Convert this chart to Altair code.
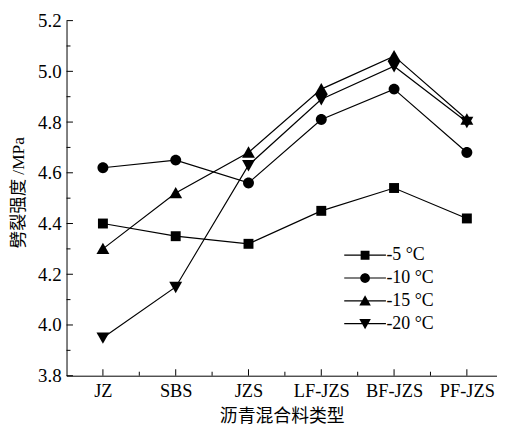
import altair as alt
import pandas as pd

categories = ["JZ", "SBS", "JZS", "LF-JZS", "BF-JZS", "PF-JZS"]
series_names = ["-5 \u00b0C", "-10 \u00b0C", "-15 \u00b0C", "-20 \u00b0C"]
s_m5 = [4.40, 4.35, 4.32, 4.45, 4.54, 4.42]
s_m10 = [4.62, 4.65, 4.56, 4.81, 4.93, 4.68]
s_m15 = [4.30, 4.52, 4.68, 4.93, 5.06, 4.81]
s_m20 = [3.95, 4.15, 4.63, 4.89, 5.02, 4.80]
y_major = [3.8, 4.0, 4.2, 4.4, 4.6, 4.8, 5.0, 5.2]
y_minor = [3.9, 4.1, 4.3, 4.5, 4.7, 4.9, 5.1]
x_major = [0, 1, 2, 3, 4, 5]
x_minor = [0.5, 1.5, 2.5, 3.5, 4.5]

rows = []
for name, vals in zip(series_names, [s_m5, s_m10, s_m15, s_m20]):
    for i, v in enumerate(vals):
        rows.append({"idx": i, "cat": categories[i], "series": name, "value": v})
df = pd.DataFrame(rows)

FONT = "'Liberation Serif', 'Times New Roman', 'Noto Sans CJK SC', serif"
W, H = 434, 358

marker_paths = [
    "M-1,-1H1V1H-1Z",
    "M1.1,0A1.1,1.1,0,1,1,-1.1,0A1.1,1.1,0,1,1,1.1,0Z",
    "M0,-1.25L1.3,1.05H-1.3Z",
    "M0,1.25L-1.3,-1.05H1.3Z",
]
# legend symbols: marker plus a thin horizontal bar (line sample)
bar = "M-4.7,-0.13H4.7V0.13H-4.7Z"
legend_paths = [bar + p for p in marker_paths]

x_scale = alt.Scale(domain=[-0.5, 5.414], nice=False, zero=False)
y_scale = alt.Scale(domain=[3.8, 5.2], nice=False, zero=False)

label_expr = "[" + ",".join("'%s'" % c for c in categories) + "][datum.value]"

x_enc = alt.X(
    "idx:Q",
    scale=x_scale,
    axis=alt.Axis(
        values=x_major, labelExpr=label_expr, ticks=False, tickSize=0, grid=False,
        title="沥青混合料类型", labelFont=FONT, labelFontSize=18.5, labelColor="black",
        labelBaseline="middle", labelPadding=14.5, titleFont=FONT, titleFontSize=18,
        titleFontWeight="normal", titleColor="black", titleBaseline="middle",
        titleX=217, titleY=41.5, domainColor="black", domainWidth=1, labelFlush=False,
    ),
)
y_enc = alt.Y(
    "value:Q",
    scale=y_scale,
    axis=alt.Axis(
        values=y_major, format=".1f", ticks=False, tickSize=0, grid=False,
        title="劈裂强度 /MPa", labelFont=FONT, labelFontSize=19, labelColor="black",
        labelPadding=5.5, titleFont=FONT, titleFontSize=17.5, titleFontWeight="normal",
        titleColor="black", titleBaseline="middle", titleX=-48, titleY=173,
        domainColor="black", domainWidth=1, labelFlush=False,
    ),
)

lines = alt.Chart(df).mark_line(color="black", strokeWidth=1.2).encode(
    x=x_enc, y=y_enc, detail="series:N", order="idx:Q"
)

points = alt.Chart(df).mark_point(filled=True, color="black", opacity=1, size=100).encode(
    x=alt.X("idx:Q", scale=x_scale),
    y=alt.Y("value:Q", scale=y_scale),
    shape=alt.Shape(
        "series:N",
        scale=alt.Scale(domain=series_names, range=marker_paths),
        legend=None,
    ),
)

legend_layer = alt.Chart(df).mark_point(filled=True, color="black", opacity=0, size=80).encode(
    x=alt.X("idx:Q", scale=x_scale),
    y=alt.Y("value:Q", scale=y_scale),
    shape=alt.Shape(
        "series:N",
        scale=alt.Scale(domain=series_names, range=legend_paths),
        legend=alt.Legend(
            title=None, orient="none", legendX=292, legendY=227.5, padding=0,
            symbolSize=80, symbolOffset=0, labelOffset=12.5, rowPadding=5,
            symbolOpacity=1, symbolFillColor="black", symbolStrokeWidth=0,
            labelFont=FONT, labelFontSize=18, labelColor="black", labelLimit=200,
        ),
    ),
)

ymaj_df = pd.DataFrame({"v": y_major})
ymin_df = pd.DataFrame({"v": y_minor})
xmaj_df = pd.DataFrame({"v": x_major})
xmin_df = pd.DataFrame({"v": x_minor})

ytick_major = alt.Chart(ymaj_df).mark_rule(color="black", strokeWidth=1).encode(
    y=alt.Y("v:Q", scale=y_scale), x=alt.value(0), x2=alt.value(6.5)
)
ytick_minor = alt.Chart(ymin_df).mark_rule(color="black", strokeWidth=1).encode(
    y=alt.Y("v:Q", scale=y_scale), x=alt.value(0), x2=alt.value(4)
)
xtick_major = alt.Chart(xmaj_df).mark_rule(color="black", strokeWidth=1).encode(
    x=alt.X("v:Q", scale=x_scale), y=alt.value(H), y2=alt.value(H - 6.5)
)
xtick_minor = alt.Chart(xmin_df).mark_rule(color="black", strokeWidth=1).encode(
    x=alt.X("v:Q", scale=x_scale), y=alt.value(H), y2=alt.value(H - 4)
)

chart = alt.layer(
    lines, ytick_major, ytick_minor, xtick_major, xtick_minor, points, legend_layer
).resolve_scale(shape="independent").properties(
    width=W, height=H,
    autosize=alt.AutoSizeParams(type="none"),
    padding={"left": 59, "top": 11, "right": 0, "bottom": 50},
    background="white",
).configure_view(stroke=None).configure_axis(grid=False)

chart.save("out.html", embed_options={"renderer": "svg", "actions": False})
